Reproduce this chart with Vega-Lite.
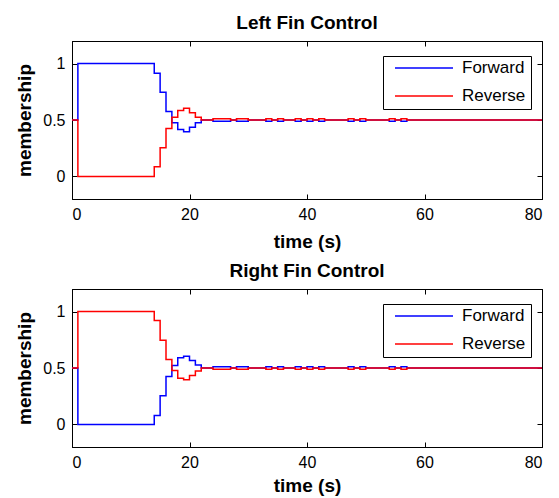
{
  "$schema": "https://vega.github.io/schema/vega-lite/v6.json",
  "background": "white",
  "padding": {"left": 15, "top": 13, "right": 5, "bottom": 0},
  "config": {
    "font": "Liberation Sans",
    "view": {"stroke": "black", "strokeWidth": 1},
    "title": {"fontSize": 19, "fontWeight": "bold", "color": "black", "offset": 8},
    "axis": {"grid": false, "domainColor": "black", "tickColor": "black", "labelColor": "black", "titleColor": "black", "labelFontSize": 16, "titleFontSize": 19, "titleFontWeight": "bold"}
  },
  "datasets": {
    "left": [
      {"t": 0, "Forward": 0.5, "Reverse": 0.5},
      {"t": 1, "Forward": 1, "Reverse": 0},
      {"t": 14, "Forward": 0.915, "Reverse": 0.085},
      {"t": 15, "Forward": 0.745, "Reverse": 0.255},
      {"t": 16, "Forward": 0.575, "Reverse": 0.425},
      {"t": 17, "Forward": 0.475, "Reverse": 0.525},
      {"t": 18, "Forward": 0.415, "Reverse": 0.585},
      {"t": 19, "Forward": 0.395, "Reverse": 0.605},
      {"t": 20, "Forward": 0.435, "Reverse": 0.565},
      {"t": 21, "Forward": 0.475, "Reverse": 0.525},
      {"t": 22, "Forward": 0.5, "Reverse": 0.5},
      {"t": 24, "Forward": 0.49, "Reverse": 0.51},
      {"t": 27, "Forward": 0.5, "Reverse": 0.5},
      {"t": 28, "Forward": 0.49, "Reverse": 0.51},
      {"t": 30, "Forward": 0.5, "Reverse": 0.5},
      {"t": 33, "Forward": 0.49, "Reverse": 0.51},
      {"t": 34, "Forward": 0.5, "Reverse": 0.5},
      {"t": 35, "Forward": 0.49, "Reverse": 0.51},
      {"t": 36, "Forward": 0.5, "Reverse": 0.5},
      {"t": 38, "Forward": 0.49, "Reverse": 0.51},
      {"t": 39, "Forward": 0.5, "Reverse": 0.5},
      {"t": 40, "Forward": 0.49, "Reverse": 0.51},
      {"t": 41, "Forward": 0.5, "Reverse": 0.5},
      {"t": 42, "Forward": 0.49, "Reverse": 0.51},
      {"t": 43, "Forward": 0.5, "Reverse": 0.5},
      {"t": 47, "Forward": 0.49, "Reverse": 0.51},
      {"t": 48, "Forward": 0.5, "Reverse": 0.5},
      {"t": 49, "Forward": 0.49, "Reverse": 0.51},
      {"t": 50, "Forward": 0.5, "Reverse": 0.5},
      {"t": 54, "Forward": 0.49, "Reverse": 0.51},
      {"t": 55, "Forward": 0.5, "Reverse": 0.5},
      {"t": 56, "Forward": 0.49, "Reverse": 0.51},
      {"t": 57, "Forward": 0.5, "Reverse": 0.5},
      {"t": 80, "Forward": 0.5, "Reverse": 0.5}
    ],
    "right": [
      {"t": 0, "Forward": 0.5, "Reverse": 0.5},
      {"t": 1, "Forward": 0, "Reverse": 1},
      {"t": 14, "Forward": 0.08, "Reverse": 0.92},
      {"t": 15, "Forward": 0.255, "Reverse": 0.745},
      {"t": 16, "Forward": 0.425, "Reverse": 0.575},
      {"t": 17, "Forward": 0.522, "Reverse": 0.478},
      {"t": 18, "Forward": 0.59, "Reverse": 0.41},
      {"t": 19, "Forward": 0.605, "Reverse": 0.395},
      {"t": 20, "Forward": 0.566, "Reverse": 0.434},
      {"t": 21, "Forward": 0.527, "Reverse": 0.473},
      {"t": 22, "Forward": 0.5, "Reverse": 0.5},
      {"t": 24, "Forward": 0.51, "Reverse": 0.49},
      {"t": 27, "Forward": 0.5, "Reverse": 0.5},
      {"t": 28, "Forward": 0.51, "Reverse": 0.49},
      {"t": 30, "Forward": 0.5, "Reverse": 0.5},
      {"t": 33, "Forward": 0.51, "Reverse": 0.49},
      {"t": 34, "Forward": 0.5, "Reverse": 0.5},
      {"t": 35, "Forward": 0.51, "Reverse": 0.49},
      {"t": 36, "Forward": 0.5, "Reverse": 0.5},
      {"t": 38, "Forward": 0.51, "Reverse": 0.49},
      {"t": 39, "Forward": 0.5, "Reverse": 0.5},
      {"t": 40, "Forward": 0.51, "Reverse": 0.49},
      {"t": 41, "Forward": 0.5, "Reverse": 0.5},
      {"t": 42, "Forward": 0.51, "Reverse": 0.49},
      {"t": 43, "Forward": 0.5, "Reverse": 0.5},
      {"t": 47, "Forward": 0.51, "Reverse": 0.49},
      {"t": 48, "Forward": 0.5, "Reverse": 0.5},
      {"t": 49, "Forward": 0.51, "Reverse": 0.49},
      {"t": 50, "Forward": 0.5, "Reverse": 0.5},
      {"t": 54, "Forward": 0.51, "Reverse": 0.49},
      {"t": 55, "Forward": 0.5, "Reverse": 0.5},
      {"t": 56, "Forward": 0.51, "Reverse": 0.49},
      {"t": 57, "Forward": 0.5, "Reverse": 0.5},
      {"t": 80, "Forward": 0.5, "Reverse": 0.5}
    ]
  },
  "spacing": 9,
  "vconcat": [
    {
      "title": "Left Fin Control",
      "width": 470,
      "height": 158,
      "data": {"name": "left"},
      "transform": [{"fold": ["Forward", "Reverse"], "as": ["series", "membership"]}],
      "layer": [
        {
          "mark": {"type": "line", "interpolate": "step-after", "strokeWidth": 1.5},
          "encoding": {
            "x": {"field": "t", "type": "quantitative", "scale": {"domain": [0, 80], "nice": false, "zero": false},
              "axis": {"orient": "bottom", "values": [0, 20, 40, 60, 80], "tickSize": -5, "labelPadding": 12, "title": "time (s)", "titlePadding": 10}},
            "y": {"field": "membership", "type": "quantitative", "scale": {"domain": [-0.2, 1.2], "nice": false, "zero": false},
              "axis": {"orient": "left", "values": [0, 0.5, 1], "format": "~g", "tickSize": -5, "labelPadding": 12, "title": "membership", "titlePadding": 8}},
            "color": {"field": "series", "type": "nominal",
              "scale": {"domain": ["Forward", "Reverse"], "range": ["#0000ff", "#ff0000"]},
              "legend": {"orient": "none", "legendX": 311, "legendY": 15, "title": null, "symbolType": "stroke", "symbolSize": 3364, "symbolStrokeWidth": 1.5, "symbolOffset": 6, "labelFontSize": 17, "labelColor": "black", "labelOffset": 8, "strokeColor": "black", "fillColor": "white", "padding": 5, "clipHeight": 14, "rowPadding": 11}}
          }
        },
        {
          "mark": {"type": "line", "opacity": 0},
          "encoding": {
            "x": {"field": "t", "type": "quantitative", "scale": {"domain": [0, 80], "nice": false, "zero": false},
              "axis": {"orient": "top", "values": [0, 20, 40, 60, 80], "tickSize": -5, "labels": false, "title": null}},
            "y": {"field": "membership", "type": "quantitative", "scale": {"domain": [-0.2, 1.2], "nice": false, "zero": false},
              "axis": {"orient": "right", "values": [0, 0.5, 1], "tickSize": -5, "labels": false, "title": null}}
          }
        }
      ],
      "resolve": {"axis": {"x": "independent", "y": "independent"}}
    },
    {
      "title": "Right Fin Control",
      "width": 470,
      "height": 158,
      "data": {"name": "right"},
      "transform": [{"fold": ["Forward", "Reverse"], "as": ["series", "membership"]}],
      "layer": [
        {
          "mark": {"type": "line", "interpolate": "step-after", "strokeWidth": 1.5},
          "encoding": {
            "x": {"field": "t", "type": "quantitative", "scale": {"domain": [0, 80], "nice": false, "zero": false},
              "axis": {"orient": "bottom", "values": [0, 20, 40, 60, 80], "tickSize": -5, "labelPadding": 12, "title": "time (s)", "titlePadding": 6}},
            "y": {"field": "membership", "type": "quantitative", "scale": {"domain": [-0.2, 1.2], "nice": false, "zero": false},
              "axis": {"orient": "left", "values": [0, 0.5, 1], "format": "~g", "tickSize": -5, "labelPadding": 12, "title": "membership", "titlePadding": 8}},
            "color": {"field": "series", "type": "nominal",
              "scale": {"domain": ["Forward", "Reverse"], "range": ["#0000ff", "#ff0000"]},
              "legend": {"orient": "none", "legendX": 311, "legendY": 15, "title": null, "symbolType": "stroke", "symbolSize": 3364, "symbolStrokeWidth": 1.5, "symbolOffset": 6, "labelFontSize": 17, "labelColor": "black", "labelOffset": 8, "strokeColor": "black", "fillColor": "white", "padding": 5, "clipHeight": 14, "rowPadding": 11}}
          }
        },
        {
          "mark": {"type": "line", "opacity": 0},
          "encoding": {
            "x": {"field": "t", "type": "quantitative", "scale": {"domain": [0, 80], "nice": false, "zero": false},
              "axis": {"orient": "top", "values": [0, 20, 40, 60, 80], "tickSize": -5, "labels": false, "title": null}},
            "y": {"field": "membership", "type": "quantitative", "scale": {"domain": [-0.2, 1.2], "nice": false, "zero": false},
              "axis": {"orient": "right", "values": [0, 0.5, 1], "tickSize": -5, "labels": false, "title": null}}
          }
        }
      ],
      "resolve": {"axis": {"x": "independent", "y": "independent"}}
    }
  ],
  "resolve": {"scale": {"color": "independent"}, "legend": {"color": "independent"}}
}
